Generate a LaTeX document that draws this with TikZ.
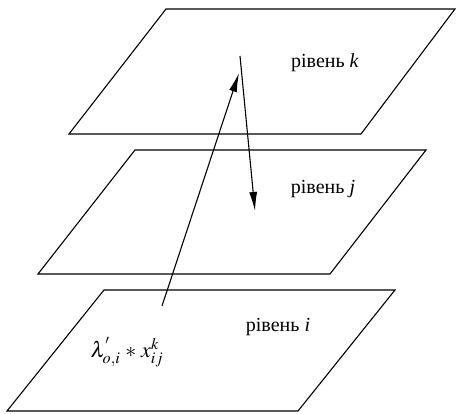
\documentclass[tikz,border=0pt]{standalone}
\usepackage{mathptmx}
\usepackage{fontspec}
\setmainfont{Liberation Serif}
\newfontfamily\lvlfont{Liberation Serif}
\usetikzlibrary{arrows.meta}

\begin{document}
\begin{tikzpicture}[
      x=1pt, y=-1pt,
      every node/.style={font=\lvlfont\fontsize{20}{24}\selectfont},
      plane/.style={draw, line width=1.1pt, line join=miter},
      arrow/.style={-{Latex[length=19pt,width=8pt]}, line width=1.1pt},
    ]
    \useasboundingbox (0,0) rectangle (456,414);

    % levels
    \draw[plane] (166,9) -- (455,9) -- (361,134) -- (69,134) -- cycle;
    \draw[plane] (135,150) -- (426,150) -- (330,274) -- (38,274) -- cycle;
    \draw[plane] (104,290) -- (395,290) -- (298,411) -- (7,411) -- cycle;

    \node (lk) at (325,63) {рівень \textit{k}};
    \node (lj) at (323,189) {рівень \textit{j}};
    \node (li) at (278,327) {рівень \textit{i}};
    \node[font=\fontsize{22}{26}\selectfont] (form) at (127,352)
      {$\lambda^{\scriptscriptstyle '}_{o,i}\;{*}\;x^{k}_{ij}$};

    \coordinate (up0) at (162,306);
    \coordinate (up1) at (239,73);
    \coordinate (dn0) at (240,56);
    \coordinate (dn1) at (255,211);

    \draw[arrow] (up0) -- (up1);
    \draw[arrow] (dn0) -- (dn1);
  \end{tikzpicture}
\end{document}
